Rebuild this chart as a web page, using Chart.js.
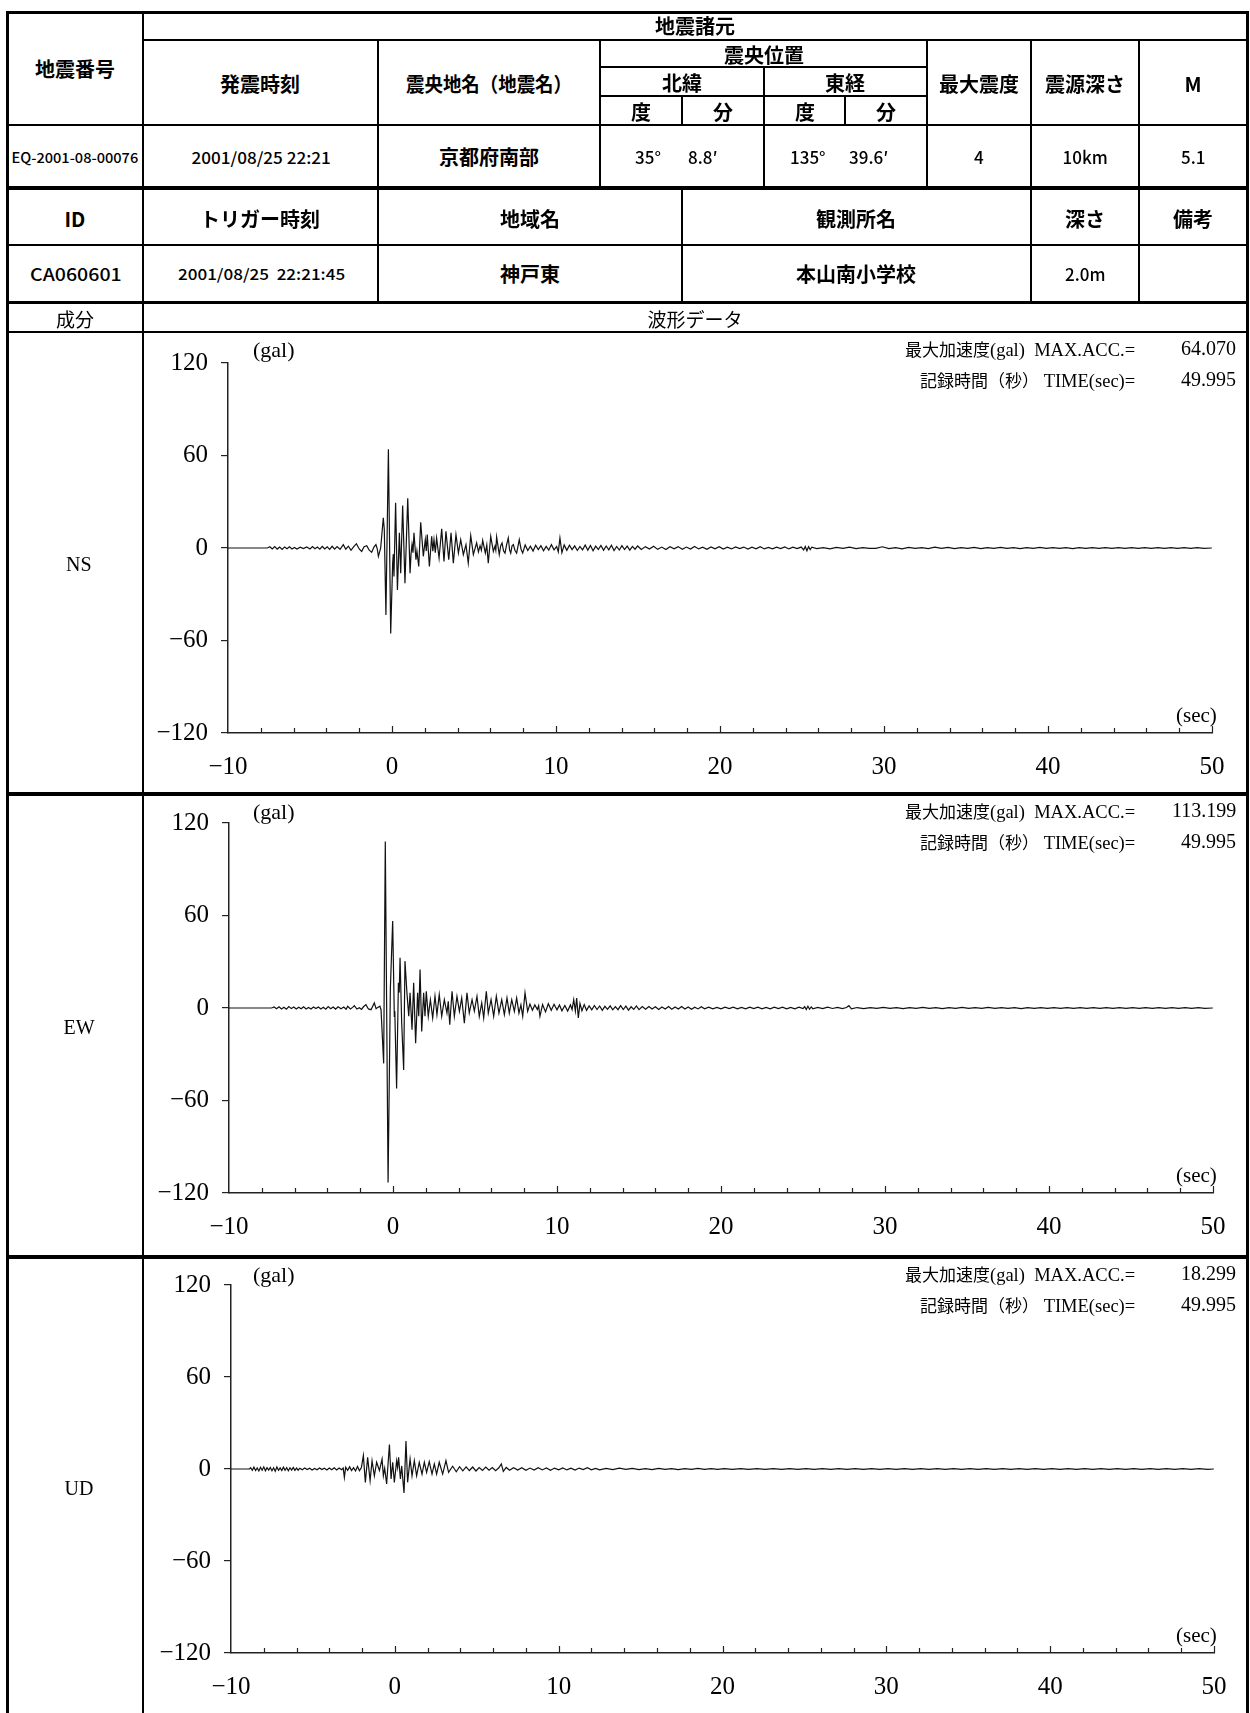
<!DOCTYPE html>
<html><head><meta charset="utf-8">
<script src="https://cdn.jsdelivr.net/npm/chart.js@4.4.1/dist/chart.umd.min.js"></script>
<style>
html,body{margin:0;padding:0;background:#fff;}
#page{position:relative;width:1250px;height:1713px;overflow:hidden;background:#fff;}
.ln{position:absolute;background:#000;z-index:3;}
.tx{position:absolute;white-space:pre;line-height:1;color:#000;z-index:4;}
canvas{position:absolute;left:0;z-index:2;}
</style></head><body><div id="page"></div>
<script>
// ---------- DATA ----------
const xTickValues = [-10, 0, 10, 20, 30, 40, 50];
const xMinorTicks = [-8,-6,-4,-2,2,4,6,8,12,14,16,18,22,24,26,28,32,34,36,38,42,44,46,48];
const yTickValues = [-120, -60, 0, 60, 120];
const componentNames = ['NS', 'EW', 'UD'];
const maxAcc = ['64.070', '113.199', '18.299'];
const recTime = ['49.995', '49.995', '49.995'];

// [time (sec), acceleration (gal)]
const nsPoints = [
[-10,0],[-7.6,0],[-7.45,0.8],[-7.3,-0.6],[-7.15,0.9],[-7.0,-0.7],[-6.85,0.6],[-6.7,-0.9],[-6.55,0.7],[-6.4,-0.5],[-6.25,0.8],[-6.1,-0.6],[-5.95,0.4],[-5.8,-0.7],[-5.6,0.5],[-5.4,-0.4],[-5.2,0.7],[-5.0,-0.6],[-4.85,0.9],[-4.7,-0.5],[-4.55,0.6],[-4.4,-0.8],[-4.25,1.0],[-4.1,-0.6],[-3.95,0.8],[-3.8,-0.9],[-3.65,1.1],[-3.5,-0.7],[-3.35,0.9],[-3.17,-0.8],
[-2.97,2.2],[-2.82,-0.8],[-2.66,1.2],[-2.5,-1.5],[-2.33,0.9],[-2.17,2.8],[-2.0,-0.6],[-1.85,-2.2],[-1.7,0.8],[-1.54,1.5],[-1.4,-1.2],[-1.24,-2.8],[-1.1,0.6],[-0.98,2.2],[-0.9,-0.5],[-0.83,-5.4],[-0.69,0],[-0.53,19.6],[-0.47,12],[-0.37,-43.5],[-0.22,64.07],[-0.08,-55.4],[0.04,-9.8],[0.08,-4],[0.12,-18.5],[0.22,29.3],[0.33,-27.2],[0.45,9.8],[0.53,-16.3],[0.65,27.6],[0.79,-22.8],[0.96,32.2],[1.1,-16.3],[1.16,-4],[1.22,2.2],[1.28,-3],[1.34,9.8],[1.46,-7.6],[1.52,-2],[1.63,-12],[1.75,16.7],[1.91,-5.4],[1.97,0],[2.03,5.4],[2.09,-2],[2.15,8.7],[2.28,-12],[2.42,7.6],[2.49,-2],[2.56,5.4],[2.64,-3],[2.72,6.5],[2.87,-6.5],[3.03,12.4],[3.17,-8.7],[3.29,10.9],[3.46,-7.6],[3.6,9.8],[3.74,-9.8],[3.9,8.7],[4.05,-3.3],[4.19,5.4],[4.35,-4.3],[4.51,2.2],[4.65,-9.8],[4.8,8],[4.96,-4.3],[5.16,3.3],[5.27,-2.5],[5.37,1.5],[5.45,-1.5],[5.53,5],[5.69,-3.3],[5.78,2],[5.87,-9.8],[6.02,7.6],[6.18,-2.2],[6.28,1.2],[6.33,-1.4],[6.38,7.2],[6.54,-4.3],[6.63,1.5],[6.71,3.3],[6.8,-1.8],[6.89,-3.3],[6.99,2.2],[7.09,6.5],[7.17,-1.2],[7.24,-3.3],[7.32,1.4],[7.4,2.2],[7.5,-1.6],[7.6,-3.3],[7.68,1.1],[7.76,5.4],[7.87,-0.8],[7.97,-3.3],
[8.12,2.0],[8.28,-1.6],[8.44,1.2],[8.6,-2.0],[8.76,1.8],[8.92,-1.0],[9.08,1.5],[9.24,-1.8],[9.4,1.0],[9.56,-1.4],[9.72,2.2],[9.88,-1.2],[10.04,1.0],[10.14,-2.5],[10.24,6.5],[10.36,-3.0],[10.5,2.0],[10.66,-1.5],[10.82,1.8],[10.98,-1.0],[11.14,1.4],[11.3,-1.6],[11.46,1.0],[11.62,-1.2],[11.78,1.9],[11.94,-1.4],[12.1,1.6],[12.26,-1.8],[12.42,1.2],[12.58,-1.0],[12.74,1.7],[12.9,-1.5],[13.06,1.3],[13.22,-1.2],[13.38,1.8],[13.54,-1.6],[13.7,1.0],[13.86,-1.3],[14.02,1.5],[14.18,-1.0],[14.34,1.2],[14.5,-1.4],[14.66,1.0],[14.82,-0.8],[14.98,1.3],
[15.2,-1.0],[15.45,0.9],[15.7,-0.7],[15.95,1.1],[16.2,-0.9],[16.45,0.6],[16.7,-1.0],[16.95,0.8],[17.2,-0.5],[17.45,0.9],[17.7,-0.8],[17.95,0.6],[18.2,-0.7],[18.45,1.0],[18.7,-0.6],[18.95,0.5],[19.2,-0.8],[19.45,0.7],[19.7,-0.5],[19.95,0.8],[20.2,-0.7],[20.45,0.5],[20.7,-0.6],[20.95,0.7],[21.2,-0.4],[21.45,0.6],[21.7,-0.7],[21.95,0.5],[22.2,-0.5],[22.45,0.8],[22.7,-0.6],[22.95,0.4],[23.2,-0.5],[23.45,0.6],[23.7,-0.4],[23.95,0.7],[24.2,-0.6],[24.45,0.5],[24.7,-0.4],[24.95,0.6],[25.1,-1.2],[25.2,1.0],[25.3,-1.8],[25.4,0.9],[25.5,-1.0],[25.6,0.5],
[25.9,-0.4],[26.3,0.3],[26.7,-0.5],[27.1,0.4],[27.5,-0.3],[27.9,0.5],[28.3,-0.4],[28.7,0.3],[29.1,-0.3],[29.5,-0.2],[29.9,0.8],[30.3,-0.4],[30.7,0.3],[31.1,-0.5],[31.5,0.4],[31.9,-0.3],[32.3,0.3],[32.7,-0.4],[33.1,0.5],[33.5,-0.3],[33.9,0.4],[34.3,-0.4],[34.7,0.3],[35.1,-0.3],[35.5,0.4],[35.9,-0.4],[36.3,0.3],[36.7,-0.3],[37.1,0.4],[37.5,-0.3],[37.9,0.3],[38.3,-0.4],[38.7,0.3],[39.1,-0.3],[39.5,0.4],[39.9,-0.3],[40.3,0.3],[40.7,-0.3],[41.1,0.3],[41.5,-0.4],[41.9,0.3],[42.3,-0.3],[42.7,0.3],[43.1,-0.3],[43.5,0.2],[43.9,-0.3],[44.3,0.3],[44.7,-0.2],[45.1,0.3],[45.5,-0.3],[45.9,0.2],[46.3,-0.3],[46.7,0.3],[47.1,-0.2],[47.5,0.3],[47.9,-0.3],[48.3,0.2],[48.7,-0.3],[49.1,0.2],[49.5,-0.2],[49.99,0]
];

const ewPoints = [
[-10,0],[-7.4,0],[-7.25,0.7],[-7.1,-0.5],[-6.95,0.8],[-6.8,-0.6],[-6.65,0.5],[-6.5,-0.8],[-6.35,0.9],[-6.2,-0.4],[-6.05,0.6],[-5.9,-0.7],[-5.75,0.5],[-5.6,-0.5],[-5.45,0.8],[-5.3,-0.6],[-5.15,0.4],[-5.0,-0.7],[-4.85,0.6],[-4.7,-0.4],[-4.55,0.7],[-4.4,-0.6],[-4.25,0.5],[-4.1,-0.8],[-3.95,0.9],[-3.8,-0.5],[-3.65,0.6],[-3.5,-0.7],[-3.35,0.8],[-3.17,-0.5],
[-3.0,0.6],[-2.86,-0.8],[-2.76,1.1],[-2.6,-0.6],[-2.46,0.4],[-2.36,1.5],[-2.2,-0.7],[-2.05,0.2],[-1.92,-0.9],[-1.8,0.8],[-1.65,2.2],[-1.5,-0.6],[-1.34,-1.1],[-1.14,3.3],[-1.03,-0.5],[-0.93,0.4],[-0.8,1.2],[-0.73,-1.1],[-0.57,-35.9],[-0.47,108],[-0.3,-113.2],[-0.16,13],[-0.02,56.5],[0.08,-5.4],[0.11,-2],[0.14,-16.3],[0.22,-52.2],[0.33,16.3],[0.38,10],[0.43,32.6],[0.53,-9.8],[0.65,-40.2],[0.73,30.4],[0.85,9.8],[0.96,-5.4],[1.04,9.8],[1.16,-14.1],[1.26,16.3],[1.38,-22.8],[1.5,9.8],[1.57,-5.4],[1.65,25],[1.75,-15.2],[1.87,9.8],[1.95,-5.4],[2.03,10.9],[2.15,-5.4],[2.28,5.4],[2.42,-6.5],[2.56,7.6],[2.68,-4.3],[2.82,8.7],[2.97,-5.4],[3.13,5.4],[3.29,-3.3],[3.37,4.3],[3.46,-10.9],[3.6,10.9],[3.74,-5.4],[3.9,7.6],[4.05,-2.2],[4.19,6.5],[4.35,-9.8],[4.51,9.8],[4.65,-3.3],[4.82,5.4],[4.96,-2],[5.12,7.6],[5.26,-5.4],[5.41,3.3],[5.53,-6.5],[5.69,10.9],[5.81,-3.3],[5.98,5.4],[6.14,-5.4],[6.3,7.6],[6.46,-3.3],[6.63,5.4],[6.79,-4.3],[6.95,6.5],[7.09,-3.3],[7.24,5.4],[7.4,-2.2],[7.54,6.5],[7.68,-3.3],[7.8,2],[7.91,-5.4],[8.05,9.8],[8.21,-2.2],[8.35,2.5],[8.5,-1.5],[8.65,2],[8.8,-1],[8.88,1.5],[8.96,-5.4],[9.12,2.2],[9.3,-2.5],[9.47,2.8],[9.65,-1.5],[9.82,2.4],[10,-1.2],[10.15,2],[10.3,-1.8],[10.48,1.6],[10.65,-2],[10.82,2],[10.92,-1],[11.02,5.4],[11.12,-2],[11.2,6.5],[11.3,-6.5],[11.4,3],[11.52,-1.8],[11.66,2.2],[11.8,-1.5],[11.96,1.4],[12.12,-1.2],[12.28,1.6],[12.44,-1.0],[12.6,1.3],[12.76,-1.5],[12.92,1.1],[13.08,-0.9],[13.24,1.4],[13.4,-1.2],[13.56,0.9],[13.72,-1.1],[13.88,1.5],[14.04,-1.0],[14.2,1.2],[14.36,-1.4],[14.52,0.8],[14.68,-0.9],[14.84,1.3],[15.0,-1.1],[15.2,0.9],[15.4,-0.8],[15.6,1.0],[15.8,-0.7],[16.0,0.8],[16.2,-1.0],[16.4,0.7],[16.6,-0.6],[16.8,0.9],[17.0,-0.8],[17.2,0.6],[17.4,-0.7],[17.6,0.9],[17.8,-0.6],[18.0,0.7],[18.2,-0.8],[18.4,0.5],[18.6,-0.6],[18.8,0.8],[19.0,-0.5],[19.25,0.6],[19.5,-0.5],[19.75,0.4],[20.0,-0.6],[20.25,0.5],[20.5,-0.4],[20.75,0.6],[21.0,-0.5],[21.25,0.4],[21.5,-0.6],[21.75,0.5],[22.0,-0.4],[22.25,0.6],[22.5,-0.5],[22.75,0.4],[23.0,-0.5],[23.25,0.6],[23.5,-0.4],[23.75,0.5],[24.0,-0.6],[24.25,0.4],[24.5,-0.5],[24.75,0.5],[25.0,-0.4],[25.1,0.9],[25.2,-1.0],[25.3,1.1],[25.4,-0.8],[25.5,0.7],[25.6,-0.5],[25.9,0.4],[26.2,-0.4],[26.5,0.5],[26.8,-0.3],[27.1,0.4],[27.4,-0.4],[27.65,0.3],[27.8,1.5],[27.95,-0.6],[28.3,0.3],[28.7,-0.4],[29.1,0.3],[29.5,-0.3],[29.9,0.4],[30.3,-0.3],[30.7,0.3],[31.1,-0.4],[31.5,0.3],[31.9,-0.3],[32.3,0.4],[32.7,-0.3],[33.1,0.3],[33.5,-0.4],[33.9,0.3],[34.3,-0.3],[34.7,0.4],[35.1,-0.3],[35.5,0.3],[35.9,-0.3],[36.3,0.4],[36.7,-0.3],[37.1,0.3],[37.5,-0.3],[37.9,0.3],[38.3,-0.4],[38.7,0.3],[39.1,-0.3],[39.5,0.3],[39.9,-0.3],[40.3,0.3],[40.7,-0.2],[41.1,0.3],[41.5,-0.3],[41.9,0.2],[42.3,-0.3],[42.7,0.3],[43.1,-0.2],[43.5,0.3],[43.9,-0.3],[44.3,0.2],[44.7,-0.3],[45.1,0.3],[45.5,-0.2],[45.9,0.3],[46.3,-0.3],[46.7,0.2],[47.1,-0.3],[47.5,0.2],[47.9,-0.2],[48.3,0.3],[48.7,-0.2],[49.1,0.2],[49.5,-0.2],[49.99,0]
];

const udPoints = [
[-10,0],[-8.87,0],[-8.8,0.8],[-8.7,-0.9],[-8.6,1.2],[-8.5,-1.0],[-8.4,0.7],[-8.3,-1.3],[-8.2,1.1],[-8.1,-0.8],[-8.0,1.4],[-7.9,-1.2],[-7.8,0.9],[-7.7,-0.7],[-7.6,1.0],[-7.5,-1.1],[-7.4,0.8],[-7.3,-1.4],[-7.2,1.3],[-7.1,-0.9],[-7.0,0.7],[-6.9,-1.0],[-6.8,1.2],[-6.7,-0.8],[-6.6,0.9],[-6.5,-1.1],[-6.4,0.8],[-6.3,-0.7],[-6.2,1.0],[-6.1,-0.9],[-6.0,0.6],[-5.9,-0.8],[-5.8,0.5],[-5.65,-0.5],[-5.5,0.6],[-5.35,-0.4],[-5.2,0.5],[-5.05,-0.6],[-4.9,0.4],[-4.75,-0.5],[-4.6,0.7],[-4.45,-0.4],[-4.3,0.5],[-4.15,-0.6],[-4.0,0.6],[-3.85,-0.5],[-3.7,0.8],[-3.55,-0.6],[-3.4,0.7],[-3.25,-0.5],[-3.15,0.6],[-3.08,-5.5],[-3.0,1.2],[-2.88,-0.8],[-2.76,1.4],[-2.64,-1.0],[-2.52,0.9],[-2.4,-1.3],[-2.28,1.6],[-2.16,-1.1],[-2.04,1.0],[-1.92,8.7],[-1.8,-8.7],[-1.66,7.6],[-1.51,-7.6],[-1.39,5.4],[-1.25,-4.4],[-1.11,4.4],[-0.94,-1.0],[-0.78,6.5],[-0.7,-4.4],[-0.62,0.5],[-0.5,-9.8],[-0.33,16],[-0.23,-6.5],[-0.13,4.4],[-0.03,-8.7],[0.11,5.4],[0.17,1],[0.23,7.6],[0.34,-6.5],[0.42,2],[0.56,-15.7],[0.68,18.3],[0.78,-8.7],[0.93,6.5],[1.05,-4.4],[1.19,5.4],[1.33,-4.4],[1.49,4.4],[1.66,-3.3],[1.8,4.4],[1.94,-2.2],[2.1,4.8],[2.27,-3.3],[2.41,3.3],[2.55,-3.3],[2.71,4.4],[2.92,-3.3],[3.12,5.4],[3.28,-2.2],[3.53,1.8],[3.75,-1.8],[3.95,1.5],[4.15,-1.2],[4.35,1.4],[4.55,-1.0],[4.75,1.3],[4.95,-1.3],[5.15,0.9],[5.35,-1.0],[5.55,1.2],[5.75,-0.8],[5.95,1.0],[6.15,-1.1],[6.35,0.8],[6.5,3.3],[6.62,-1.5],[6.8,1.0],[7.0,-0.8],[7.25,0.9],[7.5,-0.7],[7.75,0.8],[8.0,-0.9],[8.25,0.6],[8.5,-0.7],[8.75,0.9],[9.0,-0.6],[9.25,0.7],[9.5,-0.8],[9.75,0.6],[10.0,-0.5],[10.25,0.7],[10.5,-0.6],[10.75,0.5],[11.0,-0.7],[11.25,0.6],[11.5,-0.4],[11.75,0.8],[12.0,-0.5],[12.25,0.4],[12.5,-0.6],[12.9,0.4],[13.3,-0.4],[13.7,0.5],[14.1,-0.3],[14.5,0.4],[14.9,-0.4],[15.3,0.3],[15.7,-0.4],[16.1,0.4],[16.5,-0.3],[16.9,0.3],[17.3,-0.4],[17.7,0.3],[18.1,-0.3],[18.5,0.4],[18.9,-0.3],[19.3,0.3],[19.7,-0.3],[20.1,0.3],[20.6,-0.3],[21.1,0.3],[21.6,-0.2],[22.1,0.3],[22.6,-0.3],[23.1,0.2],[23.6,-0.3],[24.1,0.3],[24.6,-0.2],[25.1,0.3],[25.6,-0.3],[26.1,0.2],[26.6,-0.3],[27.1,0.3],[27.6,-0.2],[28.1,0.3],[28.6,-0.3],[29.1,0.2],[29.6,-0.2],[30.1,0.3],[30.6,-0.3],[31.1,0.2],[31.6,-0.2],[32.1,0.3],[32.6,-0.2],[33.1,0.2],[33.6,-0.3],[34.1,0.2],[34.6,-0.2],[35.1,0.3],[35.6,-0.2],[36.1,0.2],[36.6,-0.2],[37.1,0.3],[37.6,-0.2],[38.1,0.2],[38.6,-0.3],[39.1,0.2],[39.6,-0.2],[40.1,0.2],[40.6,-0.2],[41.1,0.3],[41.6,-0.2],[42.1,0.2],[42.6,-0.2],[43.1,0.2],[43.6,-0.3],[44.1,0.2],[44.6,-0.2],[45.1,0.2],[45.6,-0.2],[46.1,0.3],[46.6,-0.2],[47.1,0.2],[47.6,-0.2],[48.1,0.2],[48.6,-0.2],[49.1,0.2],[49.6,-0.2],[49.99,0]
];

// ---------- LAYOUT HELPERS ----------
const page = document.getElementById('page');
const JP = '"Noto Sans CJK JP"';
const JPQ = "'Noto Sans CJK JP'";
const SERIF = '"Liberation Serif"';
function H(x1, x2, y, w) { const d = document.createElement('div'); d.className = 'ln'; d.style.left = x1 + 'px'; d.style.width = (x2 - x1) + 'px'; d.style.top = (y - w / 2) + 'px'; d.style.height = w + 'px'; page.appendChild(d); }
function V(x, y1, y2, w) { const d = document.createElement('div'); d.className = 'ln'; d.style.top = y1 + 'px'; d.style.height = (y2 - y1) + 'px'; d.style.left = (x - w / 2) + 'px'; d.style.width = w + 'px'; page.appendChild(d); }
function T(x, cy, str, font, opt) {
  opt = opt || {};
  const d = document.createElement('div'); d.className = 'tx'; d.style.font = font;
  if (opt.html) d.innerHTML = str; else d.textContent = str;
  page.appendChild(d);
  const w = d.offsetWidth, h = d.offsetHeight;
  const sx = opt.w ? opt.w / w : 1;
  const align = opt.align || 'center';
  d.style.top = (cy - h / 2) + 'px';
  if (align === 'center') { d.style.left = (x - w / 2) + 'px'; d.style.transformOrigin = 'center center'; }
  else if (align === 'right') { d.style.left = (x - w) + 'px'; d.style.transformOrigin = 'right center'; }
  else { d.style.left = x + 'px'; d.style.transformOrigin = 'left center'; }
  if (sx !== 1) d.style.transform = 'scaleX(' + sx + ')';
  return d;
}

// ---------- TABLE LINES ----------
const L = 7, R = 1247;
H(L - 1.5, R + 1.5, 12, 3);
V(L, 12, 1713, 3); V(R, 12, 1713, 3);
V(143, 12, 1713, 2.5);
H(143, R, 40, 2);
H(600, 927, 67, 2); H(600, 927, 96, 2);
H(L, R, 125, 2.5);
H(L, R, 188, 4);
H(L, R, 245, 2.5);
H(L, R, 302, 3);
H(L, R, 332, 2.5);
H(L, R, 794, 3.5);
H(L, R, 1257, 3.5);
V(378, 40, 302, 2.5);
V(600, 40, 188, 2.5);
V(682, 96, 125, 2); V(682, 188, 302, 2.5);
V(764, 67, 188, 2.5);
V(845, 96, 125, 2);
V(927, 40, 188, 2.5);
V(1031, 40, 302, 2.5);
V(1139, 40, 302, 2.5);

// ---------- TABLE TEXT ----------
const B20 = '700 20px ' + JP;
const M17 = '500 17px ' + JP;
T(695, 25, '地震諸元', B20);
T(75, 68, '地震番号', B20);
T(260, 83, '発震時刻', B20);
T(489, 83, '震央地名（地震名）', B20, { w: 166 });
T(764, 54, '震央位置', B20);
T(682, 82, '北緯', B20); T(845, 82, '東経', B20);
T(641, 111, '度', B20); T(723, 111, '分', B20); T(805, 111, '度', B20); T(886, 111, '分', B20);
T(979, 83, '最大震度', B20); T(1085, 83, '震源深さ', B20); T(1193, 83, 'M', B20);

T(75, 157, 'EQ-2001-08-00076', '500 14px ' + JP, { w: 127 });
T(261, 157, '2001/08/25 22:21', '500 16px ' + JP, { w: 139 });
T(489, 156, '京都府南部', B20);
T(635, 156, '35°', M17, { align: 'left' });
T(688, 156, '8.8′', M17, { align: 'left' });
T(790, 156, '135°', M17, { align: 'left' });
T(849, 156, '39.6′', M17, { align: 'left' });
T(979, 156, '4', M17); T(1085, 156, '10km', M17); T(1193, 156, '5.1', M17);

T(75, 218, 'ID', B20); T(260, 218, 'トリガー時刻', B20); T(530, 218, '地域名', B20);
T(856, 218, '観測所名', B20); T(1085, 218, '深さ', B20); T(1193, 218, '備考', B20);

T(76, 273, 'CA060601', '500 17px ' + JP, { w: 92 });
T(261, 273, '2001/08/25  22:21:45', '500 15px ' + JP, { w: 167 });
T(530, 273, '神戸東', B20); T(856, 273, '本山南小学校', B20);
T(1085, 273, '2.0m', M17);

T(75, 318, '成分', '400 19px ' + JP);
T(695, 318, '波形データ', '400 19px ' + JP);

// ---------- PANELS ----------
const panels = [
  { top: 332, bottom: 794, axisTop: 363, axisBottom: 733, left: 228, right: 1212, pts: nsPoints, labelY: 564 },
  { top: 794, bottom: 1257, axisTop: 823, axisBottom: 1193, left: 229, right: 1213, pts: ewPoints, labelY: 1027 },
  { top: 1257, bottom: 1713, axisTop: 1284, axisBottom: 1653, left: 231, right: 1214, pts: udPoints, labelY: 1488 }
];
const YW = 80;
function fmt(v) { return v < 0 ? '\u2212' + Math.abs(v) : String(v); }

const minorTickPlugin = {
  id: 'minorTicks',
  afterDraw(chart) {
    const ctx = chart.ctx, xs = chart.scales.x, yb = chart.chartArea.bottom;
    ctx.save(); ctx.strokeStyle = '#222'; ctx.lineWidth = 1.2;
    ctx.beginPath();
    xMinorTicks.forEach(v => { const px = Math.round(xs.getPixelForValue(v)) + 0.5; ctx.moveTo(px, yb); ctx.lineTo(px, yb - 5); });
    xTickValues.forEach(v => { if (v === -10) return; const px = Math.round(xs.getPixelForValue(v)) + 0.5; ctx.moveTo(px, yb); ctx.lineTo(px, yb - 7); });
    ctx.stroke(); ctx.restore();
  }
};

panels.forEach((p, i) => {
  const c = document.createElement('canvas');
  const hgt = p.bottom - p.top;
  c.width = 1250; c.height = hgt;
  c.style.top = p.top + 'px'; c.style.width = '1250px'; c.style.height = hgt + 'px';
  page.appendChild(c);
  new Chart(c.getContext('2d'), {
    type: 'line',
    data: { datasets: [{ data: p.pts, borderColor: '#111', borderWidth: 1.2, pointRadius: 0, tension: 0, fill: false }] },
    options: {
      responsive: false, animation: false, devicePixelRatio: 1,
      events: [],
      plugins: { legend: { display: false }, tooltip: { enabled: false } },
      layout: { padding: { left: p.left - YW, right: 1250 - p.right, top: p.axisTop - p.top, bottom: 0 } },
      scales: {
        x: {
          type: 'linear', min: -10, max: 50,
          afterBuildTicks(s) { s.ticks = xTickValues.map(v => ({ value: v })); },
          ticks: { callback: fmt, font: { family: SERIF, size: 25 }, color: '#000', padding: 19, maxRotation: 0, autoSkip: false },
          grid: { display: false, drawTicks: false },
          border: { display: true, color: '#222', width: 1.5 },
          afterFit(s) { s.height = p.bottom - p.axisBottom; }
        },
        y: {
          type: 'linear', min: -120, max: 120,
          afterBuildTicks(s) { s.ticks = yTickValues.map(v => ({ value: v })); },
          ticks: { callback: fmt, font: { family: SERIF, size: 25 }, color: '#000', padding: 13 },
          grid: { display: true, drawOnChartArea: false, drawTicks: true, tickLength: 7, color: '#222', lineWidth: 1.2 },
          border: { display: true, color: '#222', width: 1.5 },
          afterFit(s) { s.width = YW; }
        }
      }
    },
    plugins: [minorTickPlugin]
  });

  // panel texts
  T(79, p.labelY, componentNames[i], '400 20px ' + SERIF);
  T(253, p.top + 18, '(gal)', '400 22px ' + SERIF, { align: 'left' });
  T(1217, p.axisBottom - 18, '(sec)', '400 21px ' + SERIF, { align: 'right' });
  T(1135, p.top + 16, '<span style="font:400 17px ' + JPQ + '">最大加速度</span>(gal)  MAX.ACC.=', '400 18.5px ' + SERIF, { align: 'right', html: true });
  T(1135, p.top + 47, '<span style="font:400 17px ' + JPQ + '">記録時間（秒）</span> TIME(sec)=', '400 18.5px ' + SERIF, { align: 'right', html: true });
  T(1236, p.top + 16, maxAcc[i], '400 20px ' + SERIF, { align: 'right' });
  T(1236, p.top + 47, recTime[i], '400 20px ' + SERIF, { align: 'right' });
});
</script></body></html>
